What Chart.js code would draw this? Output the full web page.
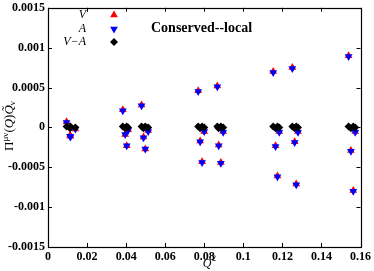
<!DOCTYPE html>
<html>
<head>
<meta charset="utf-8">
<script src="https://cdn.jsdelivr.net/npm/chart.js@4/dist/chart.umd.min.js"></script>
<style>
  html, body { margin: 0; padding: 0; background: #fff; }
  #wrap { width: 374px; height: 271px; }
</style>
</head>
<body>
<div id="wrap"><canvas id="chart" width="374" height="271"></canvas></div>
<script>
// Q^2 positions (4 points per group: upper, near zero, middle, lower)
const q2 = [
  0.0095, 0.0140, 0.0113, 0.0115,
  0.0383, 0.0410, 0.0395, 0.0403,
  0.0479, 0.0513, 0.0489, 0.0498,
  0.0769, 0.0800, 0.0779, 0.0789,
  0.0867, 0.0897, 0.0874, 0.0885,
  0.1153, 0.1184, 0.1165, 0.1175,
  0.1251, 0.1280, 0.1263, 0.1271,
  0.1539, 0.1573, 0.1551, 0.1563
];
const vValues = [
  0.00007, -0.00002, -0.00010, -0.00011,
  0.00022, -0.00003, -0.00009, -0.00023,
  0.00028, -0.00004, -0.00012, -0.00027,
  0.00046, -0.00005, -0.00017, -0.00043,
  0.00052, -0.00005, -0.00022, -0.00044,
  0.00070, -0.00005, -0.00023, -0.00061,
  0.00075, -0.00005, -0.00018, -0.00071,
  0.00090, -0.00005, -0.00029, -0.00079
];
const aValues = [
  0.00006, -0.00002, -0.00011, -0.00012,
  0.00021, -0.00004, -0.00009, -0.00023,
  0.00027, -0.00005, -0.00013, -0.00027,
  0.00045, -0.00005, -0.00018, -0.00044,
  0.00051, -0.00006, -0.00023, -0.00045,
  0.00069, -0.00006, -0.00024, -0.00062,
  0.00074, -0.00006, -0.00019, -0.00072,
  0.00089, -0.00006, -0.00030, -0.00080
];
const vaValues = [
  0.00001, 0.0, -0.00001, 0.00001,
  0.00001, 0.0, -0.00001, 0.00001,
  0.00001, 0.0, -0.00001, 0.00001,
  0.00001, 0.0, -0.00001, 0.00001,
  0.00001, 0.0, -0.00001, 0.00001,
  0.00001, 0.0, -0.00001, 0.00001,
  0.00001, 0.0, -0.00001, 0.00001,
  0.00001, 0.0, -0.00001, 0.00001
];
const xTicks = [0, 0.02, 0.04, 0.06, 0.08, 0.1, 0.12, 0.14, 0.16];
const yTicks = [-0.0015, -0.001, -0.0005, 0, 0.0005, 0.001, 0.0015];
const legendLabels = ["V", "A", "V\u2212A"];
const titleText = "Conserved--local";

function toPoints(xs, ys) {
  return xs.map((x, i) => ({ x: x, y: ys[i] }));
}

const serif = "'Liberation Serif', 'DejaVu Serif', serif";

function triangle(ctx, x, y, r, up, color) {
  ctx.fillStyle = color;
  ctx.beginPath();
  const s = up ? 1 : -1;
  ctx.moveTo(x, y - s * r);
  ctx.lineTo(x + r * 0.866, y + s * r * 0.5);
  ctx.lineTo(x - r * 0.866, y + s * r * 0.5);
  ctx.closePath();
  ctx.fill();
}

function diamond(ctx, x, y, r, color) {
  ctx.fillStyle = color;
  ctx.beginPath();
  ctx.moveTo(x, y - r);
  ctx.lineTo(x + r, y);
  ctx.lineTo(x, y + r);
  ctx.lineTo(x - r, y);
  ctx.closePath();
  ctx.fill();
}

// frame, inward ticks, legend, title and axis titles
const decorations = {
  id: "decorations",
  afterDatasetsDraw(chart) {
    const ctx = chart.ctx;
    const a = chart.chartArea;
    const xs = chart.scales.x, ys = chart.scales.y;
    ctx.save();
    ctx.strokeStyle = "#000";
    ctx.lineWidth = 1;
    ctx.beginPath();
    xTicks.forEach(t => {
      const px = Math.round(xs.getPixelForValue(t)) + 0.5;
      ctx.moveTo(px, a.bottom); ctx.lineTo(px, a.bottom - 4);
      ctx.moveTo(px, a.top); ctx.lineTo(px, a.top + 4);
    });
    yTicks.forEach(t => {
      const py = Math.round(ys.getPixelForValue(t)) + 0.5;
      ctx.moveTo(a.left, py); ctx.lineTo(a.left + 4, py);
      ctx.moveTo(a.right, py); ctx.lineTo(a.right - 4, py);
    });
    ctx.stroke();
    ctx.lineWidth = 1.2;
    ctx.strokeRect(Math.round(a.left) + 0.5, Math.round(a.top) + 0.5,
      Math.round(a.right - a.left), Math.round(a.bottom - a.top));

    // legend
    ctx.fillStyle = "#000";
    ctx.font = "italic 12px " + serif;
    ctx.textAlign = "right";
    ctx.textBaseline = "middle";
    const ly = [15, 29, 42];
    legendLabels.forEach((l, i) => ctx.fillText(l, 86, ly[i]));
    triangle(ctx, 114, ly[0], 4.5, true, "#ff0000");
    triangle(ctx, 114, ly[1], 4.5, false, "#0000ff");
    diamond(ctx, 114, ly[2], 4, "#000");

    // title
    ctx.fillStyle = "#000";
    ctx.font = "bold 14px " + serif;
    ctx.textAlign = "left";
    ctx.fillText(titleText, 151, 28);

    // x axis title
    ctx.font = "italic 12px " + serif;
    ctx.textAlign = "center";
    ctx.fillText("Q", 207, 264);
    ctx.font = "8px " + serif;
    ctx.fillText("2", 214, 259);

    // y axis title, rotated
    ctx.translate(10, 126);
    ctx.rotate(-Math.PI / 2);
    const parts = [
      { t: "\u03A0", f: "13px " + serif, dy: 0 },
      { t: "\u03BC\u03BD", f: "9px " + serif, dy: -4 },
      { t: "(", f: "13px " + serif, dy: 0 },
      { t: "Q", f: "italic 13px " + serif, dy: 0 },
      { t: ")", f: "13px " + serif, dy: 0 },
      { t: "Q\u0303", f: "italic 13px " + serif, dy: 0 },
      { t: "\u03BD", f: "9px " + serif, dy: 3 }
    ];
    let w = 0;
    parts.forEach(p => { ctx.font = p.f; p.w = ctx.measureText(p.t).width; w += p.w; });
    let cx = -w / 2;
    ctx.textAlign = "left";
    parts.forEach(p => { ctx.font = p.f; ctx.fillText(p.t, cx, p.dy); cx += p.w; });
    ctx.restore();
  }
};

new Chart(document.getElementById("chart").getContext("2d"), {
  type: "scatter",
  data: {
    datasets: [
      {
        label: legendLabels[0],
        data: toPoints(q2, vValues),
        order: 3,
        pointStyle: "triangle",
        pointRadius: 4.5,
        backgroundColor: "#ff0000",
        borderColor: "#ff0000",
        borderWidth: 0
      },
      {
        label: legendLabels[1],
        data: toPoints(q2, aValues),
        order: 2,
        pointStyle: "triangle",
        rotation: 180,
        pointRadius: 4.5,
        backgroundColor: "#0000ff",
        borderColor: "#0000ff",
        borderWidth: 0
      },
      {
        label: legendLabels[2],
        data: toPoints(q2, vaValues),
        order: 1,
        pointStyle: "rectRot",
        pointRadius: 4,
        backgroundColor: "#000",
        borderColor: "#000",
        borderWidth: 0
      }
    ]
  },
  options: {
    responsive: false,
    animation: false,
    layout: { padding: { top: 5, right: 11, left: 0, bottom: 0 } },
    plugins: { legend: { display: false }, tooltip: { enabled: false } },
    scales: {
      x: {
        type: "linear",
        min: 0, max: 0.16,
        grid: { display: false, drawTicks: false, tickLength: 0 },
        border: { display: false },
        afterBuildTicks(s) { s.ticks = xTicks.map(v => ({ value: v })); },
        afterFit(s) { s.height = 24; },
        ticks: {
          color: "#000",
          padding: 3,
          maxRotation: 0,
          font: { family: serif, size: 12, weight: "bold" },
          callback: v => String(v)
        }
      },
      y: {
        type: "linear",
        min: -0.0015, max: 0.0015,
        grid: { display: false, drawTicks: false, tickLength: 0 },
        border: { display: false },
        afterBuildTicks(s) { s.ticks = yTicks.map(v => ({ value: v })); },
        afterFit(s) { s.width = 48; },
        ticks: {
          color: "#000",
          padding: 3,
          font: { family: serif, size: 12, weight: "bold", lineHeight: 0.8 },
          callback: v => String(v)
        }
      }
    }
  },
  plugins: [decorations]
});
</script>
</body>
</html>
